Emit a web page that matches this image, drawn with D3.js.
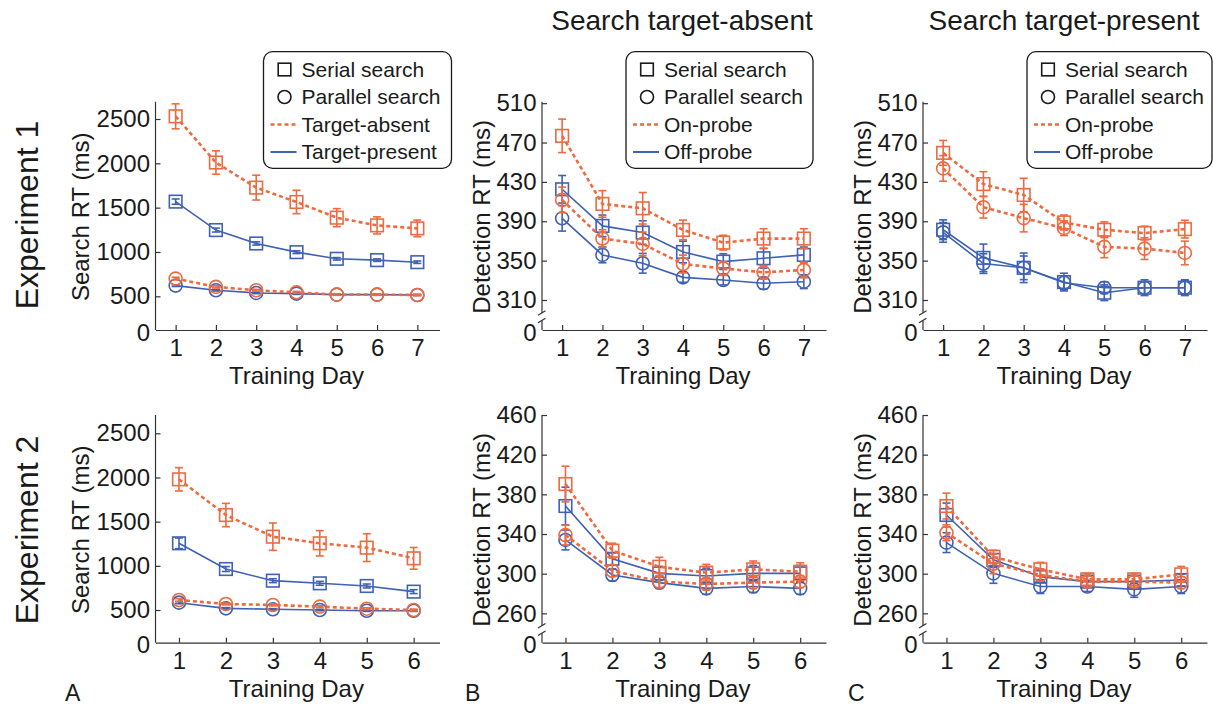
<!DOCTYPE html>
<html>
<head>
<meta charset="utf-8">
<script src="https://cdn.jsdelivr.net/npm/d3@7"></script>
<style>
  body { margin: 0; background: #fff; }
  svg { font-family: "Liberation Sans", Arial, sans-serif; }
</style>
</head>
<body>
<div class="container"></div>
<script>
(function() {
  // Days
  var days7 = [1, 2, 3, 4, 5, 6, 7];
  var days6 = [1, 2, 3, 4, 5, 6];

  // Experiment 1, search RT
  var e1SerialAbsent = [2530, 2009, 1726, 1564, 1387, 1300, 1266];
  var e1SerialAbsentErr = [141, 132, 140, 132, 102, 96, 94];
  var e1SerialPresent = [1568, 1247, 1096, 998, 923, 908, 885];
  var e1SerialPresentErr = [30, 22, 18, 16, 14, 14, 14];
  var e1ParallelAbsent = [700, 606, 568, 545, 519, 519, 515];
  var e1ParallelAbsentErr = [15, 12, 10, 10, 8, 8, 8];
  var e1ParallelPresent = [621, 568, 538, 530, 519, 519, 515];
  var e1ParallelPresentErr = [10, 8, 8, 8, 6, 6, 6];

  // Experiment 1, detection RT, search target-absent
  var e1AbsOnSerial = [476.8, 407.6, 403.2, 381.2, 368.3, 372.4, 372.4];
  var e1AbsOnSerialErr = [17, 13.5, 16, 10, 7.5, 10, 10];
  var e1AbsOffSerial = [422.5, 385.3, 378.5, 358.8, 349, 352.4, 355.8];
  var e1AbsOffSerialErr = [14, 11, 12, 11, 8, 10, 8];
  var e1AbsOnParallel = [411.7, 372.4, 367, 346.6, 342, 338.1, 340.5];
  var e1AbsOnParallelErr = [13, 9, 12, 9, 7, 7, 8];
  var e1AbsOffParallel = [393, 355.8, 347.3, 333, 330.3, 327, 328.6];
  var e1AbsOffParallelErr = [13, 8, 10, 5, 5, 6, 7];

  // Experiment 1, detection RT, search target-present
  var e1PresOnSerial = [459.5, 427.8, 416.7, 388.8, 381.4, 378, 382];
  var e1PresOnSerialErr = [12.6, 12.6, 17, 7.5, 8, 7, 9];
  var e1PresOffSerial = [381.4, 352.8, 342.7, 328.2, 317.4, 322.5, 322.5];
  var e1PresOffSerialErr = [10, 14, 15, 9, 8, 8, 8];
  var e1PresOnParallel = [443.7, 404.3, 393.2, 383, 364, 362.2, 357.8];
  var e1PresOnParallelErr = [13, 11, 14, 7.5, 11, 11, 12];
  var e1PresOffParallel = [378.7, 347, 342.7, 327.5, 322.5, 322.5, 322.5];
  var e1PresOffParallelErr = [10, 10, 12, 7, 6, 6, 7];

  // Experiment 2, search RT
  var e2SerialAbsent = [1979, 1575, 1330, 1255, 1206, 1085];
  var e2SerialAbsentErr = [132, 132, 155, 143, 157, 123];
  var e2SerialPresent = [1255, 964, 832, 802, 772, 708];
  var e2SerialPresentErr = [60, 28, 22, 22, 22, 22];
  var e2ParallelAbsent = [613, 568, 557, 538, 515, 500];
  var e2ParallelAbsentErr = [15, 10, 10, 10, 10, 10];
  var e2ParallelPresent = [583, 519, 508, 500, 492, 492];
  var e2ParallelPresentErr = [12, 8, 8, 8, 8, 8];

  // Experiment 2, detection RT, search target-absent
  var e2AbsOnSerial = [390.4, 323.2, 307, 301, 304.4, 302];
  var e2AbsOnSerialErr = [18, 7.5, 9.5, 8.4, 8.4, 9];
  var e2AbsOffSerial = [368.2, 315, 300.3, 297.6, 300.3, 300.3];
  var e2AbsOffSerialErr = [19, 6, 7, 8, 8, 8];
  var e2AbsOnParallel = [339, 303, 292, 289.6, 291, 292];
  var e2AbsOnParallelErr = [10, 6, 6, 6, 6, 6];
  var e2AbsOffParallel = [334, 298.7, 291, 285.2, 287, 285.2];
  var e2AbsOffParallelErr = [10, 6, 6, 6, 6, 6];

  // Experiment 2, detection RT, search target-present
  var e2PresOnSerial = [368.2, 317.1, 304.4, 294.3, 294.3, 299.3];
  var e2PresOnSerialErr = [13, 6.5, 7, 6, 6, 8];
  var e2PresOffSerial = [359.2, 314, 297, 292, 292, 293.6];
  var e2PresOffSerialErr = [12, 6, 6, 6, 6, 6];
  var e2PresOnParallel = [341.3, 310, 298.7, 292, 292, 291];
  var e2PresOnParallelErr = [8, 10, 6, 6, 6, 6];
  var e2PresOffParallel = [331.3, 300.3, 287, 287, 284.2, 287];
  var e2PresOffParallelErr = [10, 10, 7, 5, 8, 7];

  // Tick labels
  var searchTicks = [500, 1000, 1500, 2000, 2500];
  var detTicks1 = [310, 350, 390, 430, 470, 510];
  var detTicks2 = [260, 300, 340, 380, 420, 460];

  var legendSearch = ['Serial search', 'Parallel search', 'Target-absent', 'Target-present'];
  var legendDetect = ['Serial search', 'Parallel search', 'On-probe', 'Off-probe'];

  var orange = '#ee6a40';
  var blue = '#3f62b5';
  var ink = '#1a1a1a';

  var svg = d3.select('div.container').append('svg')
    .attr('width', 1213).attr('height', 708);

  var cols = [155.5, 542, 923];
  var colW = 284;
  var rows = [{ top: 101.7, base: 330 }, { top: 415, base: 642.7 }];

  function mk(days, a, ae, b, be, c, ce, d, de) {
    // a: orange serial, b: blue serial, c: orange parallel, d: blue parallel
    return [
      { days: days, v: d, e: de, color: blue, dash: null, shape: 'circle' },
      { days: days, v: b, e: be, color: blue, dash: null, shape: 'square' },
      { days: days, v: c, e: ce, color: orange, dash: '4,3', shape: 'circle' },
      { days: days, v: a, e: ae, color: orange, dash: '4,3', shape: 'square' }
    ];
  }

  var panels = [
    { col: 0, row: 0, days: days7, dom: [120, 2695], ticks: searchTicks, brk: false, ylab: 'Search RT (ms)', legend: legendSearch, lx: 263.5, lw: 188,
      series: mk(days7, e1SerialAbsent, e1SerialAbsentErr, e1SerialPresent, e1SerialPresentErr, e1ParallelAbsent, e1ParallelAbsentErr, e1ParallelPresent, e1ParallelPresentErr) },
    { col: 1, row: 0, days: days7, dom: [279.5, 511.5], ticks: detTicks1, brk: true, ylab: 'Detection RT (ms)', legend: legendDetect, lx: 626, lw: 187,
      series: mk(days7, e1AbsOnSerial, e1AbsOnSerialErr, e1AbsOffSerial, e1AbsOffSerialErr, e1AbsOnParallel, e1AbsOnParallelErr, e1AbsOffParallel, e1AbsOffParallelErr) },
    { col: 2, row: 0, days: days7, dom: [279.5, 511.5], ticks: detTicks1, brk: true, ylab: 'Detection RT (ms)', legend: legendDetect, lx: 1027, lw: 185,
      series: mk(days7, e1PresOnSerial, e1PresOnSerialErr, e1PresOffSerial, e1PresOffSerialErr, e1PresOnParallel, e1PresOnParallelErr, e1PresOffParallel, e1PresOffParallelErr) },
    { col: 0, row: 1, days: days6, dom: [130, 2707], ticks: searchTicks, brk: false, ylab: 'Search RT (ms)', letter: 'A', lxl: 65,
      series: mk(days6, e2SerialAbsent, e2SerialAbsentErr, e2SerialPresent, e2SerialPresentErr, e2ParallelAbsent, e2ParallelAbsentErr, e2ParallelPresent, e2ParallelPresentErr) },
    { col: 1, row: 1, days: days6, dom: [230.4, 460], ticks: detTicks2, brk: true, ylab: 'Detection RT (ms)', letter: 'B', lxl: 465,
      series: mk(days6, e2AbsOnSerial, e2AbsOnSerialErr, e2AbsOffSerial, e2AbsOffSerialErr, e2AbsOnParallel, e2AbsOnParallelErr, e2AbsOffParallel, e2AbsOffParallelErr) },
    { col: 2, row: 1, days: days6, dom: [230.4, 460], ticks: detTicks2, brk: true, ylab: 'Detection RT (ms)', letter: 'C', lxl: 848,
      series: mk(days6, e2PresOnSerial, e2PresOnSerialErr, e2PresOffSerial, e2PresOffSerialErr, e2PresOnParallel, e2PresOnParallelErr, e2PresOffParallel, e2PresOffParallelErr) }
  ];

  function drawMarker(g, shape, cx, cy, color) {
    if (shape === 'square') {
      g.append('rect').attr('x', cx - 6.3).attr('y', cy - 6.3).attr('width', 12.6).attr('height', 12.6)
        .attr('fill', 'none').attr('stroke', color).attr('stroke-width', 1.6);
    } else {
      g.append('circle').attr('cx', cx).attr('cy', cy).attr('r', 6.5)
        .attr('fill', 'none').attr('stroke', color).attr('stroke-width', 1.6);
    }
  }

  panels.forEach(function(p) {
    var left = cols[p.col];
    var r = rows[p.row];
    var n = p.days.length;
    var x = d3.scaleLinear().domain([0.5, n + 0.55]).range([left, left + colW]);
    var y = d3.scaleLinear().domain(p.dom).range([r.base, r.top]);
    var g = svg.append('g');

    // x axis
    var xa = g.append('g').attr('transform', 'translate(0,' + r.base + ')')
      .call(d3.axisBottom(x).tickValues(p.days).tickFormat(d3.format('d'))
        .tickSizeInner(-5).tickSizeOuter(0).tickPadding(9));
    xa.selectAll('path, line').attr('stroke', '#333').attr('stroke-width', 1.2);
    xa.selectAll('text').attr('font-size', 24).attr('fill', ink);

    // y axis
    var ya = g.append('g').attr('transform', 'translate(' + left + ',0)')
      .call(d3.axisLeft(y).tickValues(p.ticks).tickFormat(d3.format('d'))
        .tickSizeInner(-5).tickSizeOuter(0).tickPadding(5.5));
    ya.select('.domain').remove();
    ya.selectAll('line').attr('stroke', '#333').attr('stroke-width', 1.2);
    ya.selectAll('text').attr('font-size', 24).attr('fill', ink);
    ya.append('text').attr('x', -5.5).attr('y', r.base + 3).attr('dy', '0.32em')
      .attr('text-anchor', 'end').attr('font-size', 24).attr('fill', ink).text('0');

    if (p.brk) {
      // broken y axis with two slash marks
      var b1 = r.base - 17, b2 = r.base - 9.5;
      g.append('line').attr('x1', left).attr('x2', left).attr('y1', r.top).attr('y2', b1)
        .attr('stroke', '#333').attr('stroke-width', 1.2);
      g.append('line').attr('x1', left).attr('x2', left).attr('y1', b2).attr('y2', r.base)
        .attr('stroke', '#333').attr('stroke-width', 1.2);
      [b1, b2].forEach(function(by) {
        g.append('line').attr('x1', left - 4).attr('y1', by + 2.3).attr('x2', left + 3.5).attr('y2', by - 2.3)
          .attr('stroke', '#333').attr('stroke-width', 1.2);
      });
    } else {
      g.append('line').attr('x1', left).attr('x2', left).attr('y1', r.top).attr('y2', r.base)
        .attr('stroke', '#333').attr('stroke-width', 1.2);
    }

    // axis titles
    var ylx = p.col === 0 ? left - 67 : left - 52;
    g.append('text').attr('transform', 'translate(' + ylx + ',' + ((r.top + r.base) / 2 + 1) + ') rotate(-90)')
      .attr('text-anchor', 'middle').attr('font-size', 24).attr('fill', ink).text(p.ylab);
    g.append('text').attr('x', x((1 + n) / 2)).attr('y', r.base + 54)
      .attr('text-anchor', 'middle').attr('font-size', 24).attr('fill', ink).text('Training Day');

    // series
    p.series.forEach(function(s) {
      var pts = s.days.map(function(d, i) { return { d: d, v: s.v[i], e: s.e[i] }; });
      var eg = g.append('g').attr('stroke', s.color).attr('stroke-width', 1.6);
      pts.forEach(function(pt) {
        var cx = x(pt.d);
        eg.append('line').attr('x1', cx).attr('x2', cx).attr('y1', y(pt.v - pt.e)).attr('y2', y(pt.v + pt.e));
        eg.append('line').attr('x1', cx - 4).attr('x2', cx + 4).attr('y1', y(pt.v - pt.e)).attr('y2', y(pt.v - pt.e));
        eg.append('line').attr('x1', cx - 4).attr('x2', cx + 4).attr('y1', y(pt.v + pt.e)).attr('y2', y(pt.v + pt.e));
      });
      var line = d3.line().x(function(pt) { return x(pt.d); }).y(function(pt) { return y(pt.v); });
      g.append('path').datum(pts).attr('d', line).attr('fill', 'none')
        .attr('stroke', s.color).attr('stroke-width', s.dash ? 2.6 : 1.6)
        .attr('stroke-dasharray', s.dash);
      pts.forEach(function(pt) { drawMarker(g, s.shape, x(pt.d), y(pt.v), s.color); });
    });

    // legend
    if (p.legend) {
      var lg = g.append('g');
      lg.append('rect').attr('x', p.lx).attr('y', 51.7).attr('width', p.lw).attr('height', 116.6)
        .attr('rx', 9).attr('fill', '#fff').attr('stroke', ink).attr('stroke-width', 1.3);
      p.legend.forEach(function(t, i) {
        var ly = 69.5 + i * 27.5;
        if (i === 0) drawMarker(lg, 'square', p.lx + 21, ly, ink);
        if (i === 1) drawMarker(lg, 'circle', p.lx + 21, ly, ink);
        if (i === 2) lg.append('line').attr('x1', p.lx + 7).attr('x2', p.lx + 33).attr('y1', ly).attr('y2', ly)
          .attr('stroke', orange).attr('stroke-width', 2.6).attr('stroke-dasharray', '4,3');
        if (i === 3) lg.append('line').attr('x1', p.lx + 7).attr('x2', p.lx + 33).attr('y1', ly).attr('y2', ly)
          .attr('stroke', blue).attr('stroke-width', 2);
        lg.append('text').attr('x', p.lx + 38).attr('y', ly).attr('dy', '0.35em')
          .attr('font-size', 21).attr('fill', ink).text(t);
      });
    }

    if (p.letter) {
      g.append('text').attr('x', p.lxl).attr('y', 701).attr('font-size', 23).attr('fill', ink).text(p.letter);
    }
  });

  // column titles
  svg.append('text').attr('x', 682).attr('y', 30).attr('text-anchor', 'middle')
    .attr('font-size', 28).attr('fill', ink).text('Search target-absent');
  svg.append('text').attr('x', 1064).attr('y', 30).attr('text-anchor', 'middle')
    .attr('font-size', 28).attr('fill', ink).text('Search target-present');

  // row labels
  svg.append('text').attr('transform', 'translate(38,215) rotate(-90)').attr('text-anchor', 'middle')
    .attr('font-size', 32).attr('fill', ink).text('Experiment 1');
  svg.append('text').attr('transform', 'translate(38,530) rotate(-90)').attr('text-anchor', 'middle')
    .attr('font-size', 32).attr('fill', ink).text('Experiment 2');

}).call(this);
</script>
</body>
</html>
